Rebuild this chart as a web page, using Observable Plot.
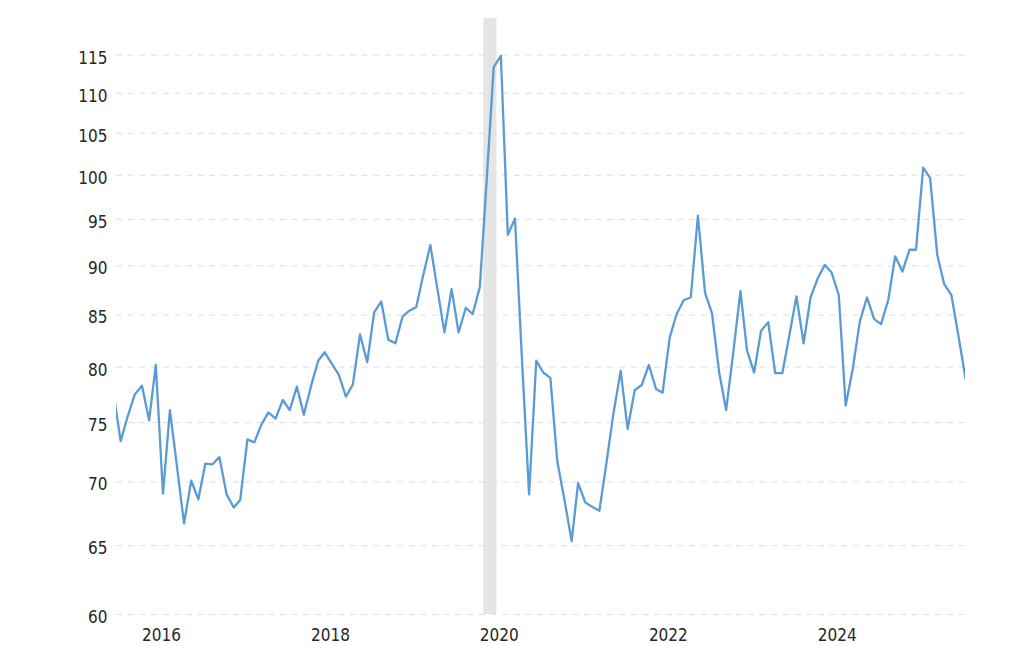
<!DOCTYPE html>
<html><head><meta charset="utf-8">
<script src="https://cdn.jsdelivr.net/npm/d3@7"></script>
<script src="https://cdn.jsdelivr.net/npm/@observablehq/plot@0.6"></script>
<style>html,body{margin:0;padding:0;background:#fff;}</style>
</head><body><div id="chart"></div>
<script>
// Monthly series, first value = September 2015
const startYear = 2015;
const startMonth = 8; // 0-based (September)
const values = [
  77.5, 73.4, 75.6, 77.5, 78.3, 75.2, 80.2, 69.05, 76.1, 71.2, 66.7, 70.1,
  68.6, 71.5, 71.45, 72.05, 69.0, 67.95, 68.55, 73.55, 73.3, 74.85, 75.9, 75.35,
  77.0, 76.1, 78.2, 75.7, 78.25, 80.6, 81.4, 80.3, 79.3, 77.3, 78.4, 83.1,
  80.45, 85.25, 86.35, 82.6, 82.25, 84.85, 85.4, 85.8, 89.0, 92.2, 87.7, 83.3,
  87.6, 83.3, 85.7, 85.1, 87.8, 100.0, 113.4, 114.9, 93.3, 95.1, 80.8, 69.0,
  80.6, 79.5, 79.0, 71.7, 68.55, 65.35, 69.9, 68.35, 68.0, 67.7, 71.5, 75.85,
  79.65, 74.45, 77.9, 78.35, 80.2, 78.0, 77.65, 82.8, 85.1, 86.5, 86.75, 95.4,
  87.2, 85.15, 79.5, 76.1, 81.4, 87.4, 81.6, 79.5, 83.45, 84.3, 79.45, 79.45,
  83.1, 86.85, 82.25, 86.75, 88.7, 90.1, 89.3, 87.0, 76.5, 79.9, 84.35, 86.75,
  84.6, 84.1, 86.5, 91.0, 89.4, 91.7, 91.7, 100.9, 99.7, 91.15, 88.1, 87.0,
  82.9, 78.95
];
const yTicks = [60, 65, 70, 75, 80, 85, 90, 95, 100, 105, 110, 115];
const yearTicks = [2016, 2018, 2020, 2022, 2024];
const recessionStart = ["2020-01-18"];
const recessionEnd = ["2020-03-15"];

const data = values.map((v, i) => ({date: new Date(Date.UTC(startYear, startMonth + i, 1)), value: v}));
const recession = recessionStart.map((s, i) => ({start: new Date(s), end: new Date(recessionEnd[i])}));
const font = "'DejaVu Sans Condensed', 'DejaVu Sans', sans-serif";

const chart = Plot.plot({
  width: 1024, height: 646,
  marginLeft: 116, marginRight: 59, marginTop: 18, marginBottom: 32,
  style: {fontFamily: font, fontSize: "17px", color: "#262626", background: "#fff"},
  x: {type: "utc", domain: [new Date(Date.UTC(2015, 8, 13)), new Date(Date.UTC(2025, 9, 1))]},
  y: {type: "log", domain: [60, 120]},
  marks: [
    Plot.rect(recession, {x1: "start", x2: "end", fill: "#e5e5e5"}),
    Plot.ruleY(yTicks, {stroke: "#dcdee3", strokeDasharray: "6,5.7", strokeWidth: 1}),
    Plot.lineY(data, {x: "date", y: "value", stroke: "#5b9bd5", strokeWidth: 2.3, clip: true}),
    Plot.axisY({ticks: yTicks, tickSize: 0, tickPadding: 9, tickFormat: d => String(d), label: null, fontSize: 17, dy: 3}),
    Plot.axisX({ticks: yearTicks.map(y => new Date(Date.UTC(y, 0, 1))), tickFormat: "%Y", tickSize: 0, tickPadding: 14, textAnchor: "start", label: null, fontSize: 17})
  ]
});
document.getElementById("chart").appendChild(chart);
</script>
</body></html>
